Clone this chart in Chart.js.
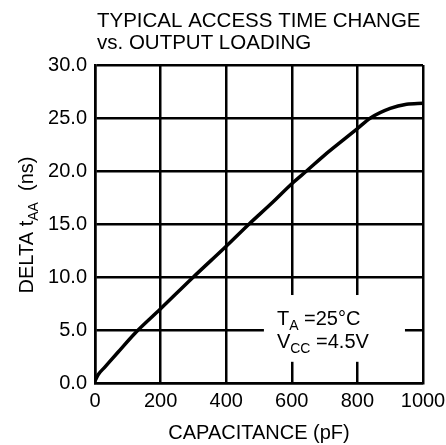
<!DOCTYPE html>
<html>
<head>
<meta charset="utf-8">
<script src="https://cdn.jsdelivr.net/npm/chart.js@4"></script>
<style>
  html, body { margin: 0; padding: 0; background: #fff; }
  #wrap { width: 446px; height: 445px; }
</style>
</head>
<body>
<div id="wrap"><canvas id="accessChart" width="446" height="445"></canvas></div>
<script>
// values
const capacitance = [0, 10, 30, 70, 122, 200, 300, 400, 470, 540, 600, 645, 700, 760, 800, 840, 900, 950, 1000];
const deltaTaa    = [0.2, 0.8, 1.5, 2.9, 4.7, 7.0, 10.0, 12.9, 15.0, 17.0, 18.8, 20.0, 21.5, 23.0, 24.0, 25.0, 25.9, 26.3, 26.4];
const titleLines = ['TYPICAL ACCESS TIME CHANGE', 'vs. OUTPUT LOADING'];
const xTicks = [0, 200, 400, 600, 800, 1000];
const yTicks = [0, 5, 10, 15, 20, 25, 30];

const FONT = '"Liberation Sans", Arial, sans-serif';

// title, axis labels with subscripts, condition box
const extras = {
    id: 'extras',
    afterDraw(chart) {
        const ctx = chart.ctx;
        const x = chart.scales.x, y = chart.scales.y;
        ctx.save();
        ctx.fillStyle = '#000';
        ctx.textBaseline = 'alphabetic';
        ctx.font = '20.5px ' + FONT;
        ctx.textAlign = 'left';
        ctx.fillText(titleLines[0], 97, 27);
        ctx.fillText(titleLines[1], 97, 49);

        // y axis title, rotated
        ctx.save();
        ctx.translate(33, 225);
        ctx.rotate(-Math.PI / 2);
        const parts = [['DELTA t', 20, 0], ['AA', 14, 5], ['  (ns)', 20, 0]];
        let total = 0;
        parts.forEach(p => { ctx.font = p[1] + 'px ' + FONT; total += ctx.measureText(p[0]).width; });
        let px = -total / 2;
        parts.forEach(p => {
            ctx.font = p[1] + 'px ' + FONT;
            ctx.fillText(p[0], px, p[2]);
            px += ctx.measureText(p[0]).width;
        });
        ctx.restore();

        // conditions box
        const bx0 = x.getPixelForValue(515), bx1 = x.getPixelForValue(945);
        const by0 = y.getPixelForValue(8.3), by1 = y.getPixelForValue(2.0);
        ctx.fillStyle = '#fff';
        ctx.fillRect(bx0, by0, bx1 - bx0, by1 - by0);
        ctx.fillStyle = '#000';
        const drawSub = (main, sub, rest, tx, ty) => {
            ctx.font = '20px ' + FONT;
            ctx.fillText(main, tx, ty);
            tx += ctx.measureText(main).width;
            ctx.font = '14px ' + FONT;
            ctx.fillText(sub, tx, ty + 5);
            tx += ctx.measureText(sub).width;
            ctx.font = '20px ' + FONT;
            ctx.fillText(rest, tx, ty);
        };
        drawSub('T', 'A', ' =25\u00B0C', bx0 + 13, by0 + 30);
        drawSub('V', 'CC', ' =4.5V', bx0 + 13, by0 + 53);
        ctx.restore();
    }
};

const ctx = document.getElementById('accessChart').getContext('2d');
new Chart(ctx, {
    type: 'line',
    data: {
        datasets: [{
            data: capacitance.map((c, i) => ({ x: c, y: deltaTaa[i] })),
            borderColor: '#000',
            borderWidth: 3.5,
            pointRadius: 0,
            cubicInterpolationMode: 'monotone',
            fill: false
        }]
    },
    options: {
        responsive: false,
        animation: false,
        devicePixelRatio: 1,
        layout: { padding: { top: 65, right: 23, left: 0, bottom: 0 } },
        plugins: { legend: { display: false }, tooltip: { enabled: false }, title: { display: false } },
        scales: {
            x: {
                type: 'linear', min: 0, max: 1000,
                afterBuildTicks: s => { s.ticks = xTicks.map(v => ({ value: v })); },
                afterFit: s => { s.height = 62; s.paddingRight = 0; s.paddingLeft = 0; },
                grid: { color: '#000', lineWidth: 2.5, drawTicks: false },
                border: { color: '#000', width: 2.5 },
                ticks: { color: '#000', padding: 6, maxRotation: 0, font: { family: FONT, size: 20 }, callback: v => String(v) },
                title: {
                    display: true, text: 'CAPACITANCE (pF)', color: '#000',
                    font: { family: FONT, size: 20 }, padding: { top: 10, bottom: 0 }
                }
            },
            y: {
                type: 'linear', min: 0, max: 30,
                afterBuildTicks: s => { s.ticks = yTicks.map(v => ({ value: v })); },
                afterFit: s => { s.width = 95; s.paddingTop = 0; s.paddingBottom = 0; },
                grid: { color: '#000', lineWidth: 2.5, drawTicks: false },
                border: { color: '#000', width: 2.5 },
                ticks: { color: '#000', padding: 8, font: { family: FONT, size: 20 }, callback: v => v.toFixed(1) }
            }
        }
    },
    plugins: [extras]
});
</script>
</body>
</html>
